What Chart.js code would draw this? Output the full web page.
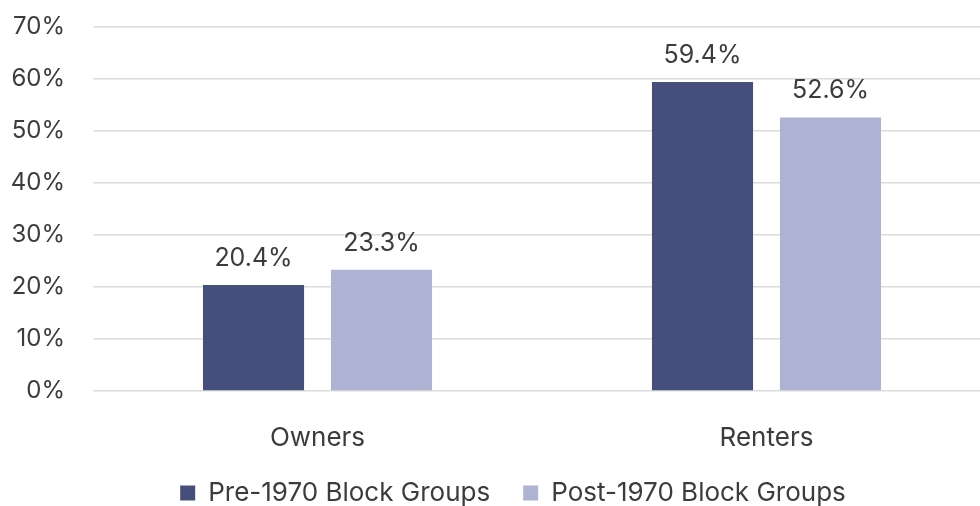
<!DOCTYPE html>
<html>
<head>
<meta charset="utf-8">
<script src="https://cdn.jsdelivr.net/npm/chart.js@4"></script>
<style>
    html, body { margin: 0; padding: 0; background: #fff; overflow: hidden; }
    #wrap { width: 1026px; height: 516px; }
</style>
</head>
<body>
<div id="wrap"><canvas id="myChart"></canvas></div>
<script>
var categories = ['Owners', 'Renters'];
var seriesNames = ['Pre-1970 Block Groups', 'Post-1970 Block Groups'];
var preValues = [20.4, 59.4];
var postValues = [23.3, 52.6];
var yTicks = [0, 10, 20, 30, 40, 50, 60, 70];

var textColor = '#3c3c3c';
var fontFamily = 'Inter, "Open Sans", sans-serif';

// draws the value above each bar
var valueLabels = {
    id: 'valueLabels',
    afterDatasetsDraw: function (chart) {
        var ctx = chart.ctx;
        ctx.save();
        ctx.font = '25px ' + fontFamily;
        ctx.fillStyle = textColor;
        ctx.textAlign = 'center';
        ctx.textBaseline = 'alphabetic';
        chart.data.datasets.forEach(function (ds, i) {
            chart.getDatasetMeta(i).data.forEach(function (bar, j) {
                ctx.fillText(ds.data[j].toFixed(1) + '%', bar.x, bar.y - 19);
            });
        });
        ctx.restore();
    }
};

var ctx = document.getElementById('myChart').getContext('2d');
var myChart = new Chart(ctx, {
    type: 'bar',
    data: {
        labels: categories,
        datasets: [{
            label: seriesNames[0],
            data: preValues,
            backgroundColor: '#464e7c'
        },
        {
            label: seriesNames[1],
            data: postValues,
            backgroundColor: '#aeb3d4'
        }]
    },
    options: {
        responsive: true,
        maintainAspectRatio: false,
        animation: false,
        categoryPercentage: 0.57,
        barPercentage: 0.79,
        layout: { padding: { top: 27, bottom: 0 } },
        plugins: {
            tooltip: { enabled: false },
            legend: {
                position: 'bottom',
                labels: {
                    boxWidth: 15,
                    boxHeight: 15,
                    padding: 33,
                    color: textColor,
                    font: { family: fontFamily, size: 26 }
                }
            }
        },
        scales: {
            x: {
                grid: { display: false },
                border: { display: false },
                afterFit: function (scale) { scale.height = 56; },
                ticks: {
                    color: textColor,
                    padding: 24,
                    font: { family: fontFamily, size: 26 }
                }
            },
            y: {
                min: 0,
                max: 70,
                afterBuildTicks: function (scale) {
                    scale.ticks = yTicks.map(function (v) { return { value: v }; });
                },
                afterFit: function (scale) {
                    scale.width = 93;
                    scale.paddingTop = 0;
                    scale.paddingBottom = 0;
                },
                grid: { color: '#dcdcdc', lineWidth: 1.5, drawTicks: false },
                border: { display: false },
                ticks: {
                    color: textColor,
                    padding: 28,
                    font: { family: fontFamily, size: 24 },
                    callback: function (v) { return v + '%'; }
                }
            },
            yRight: {
                position: 'right',
                display: true,
                grid: { display: false },
                border: { display: false },
                ticks: { display: false },
                afterFit: function (scale) { scale.width = 35; }
            }
        }
    },
    plugins: [valueLabels]
});
</script>
</body>
</html>
